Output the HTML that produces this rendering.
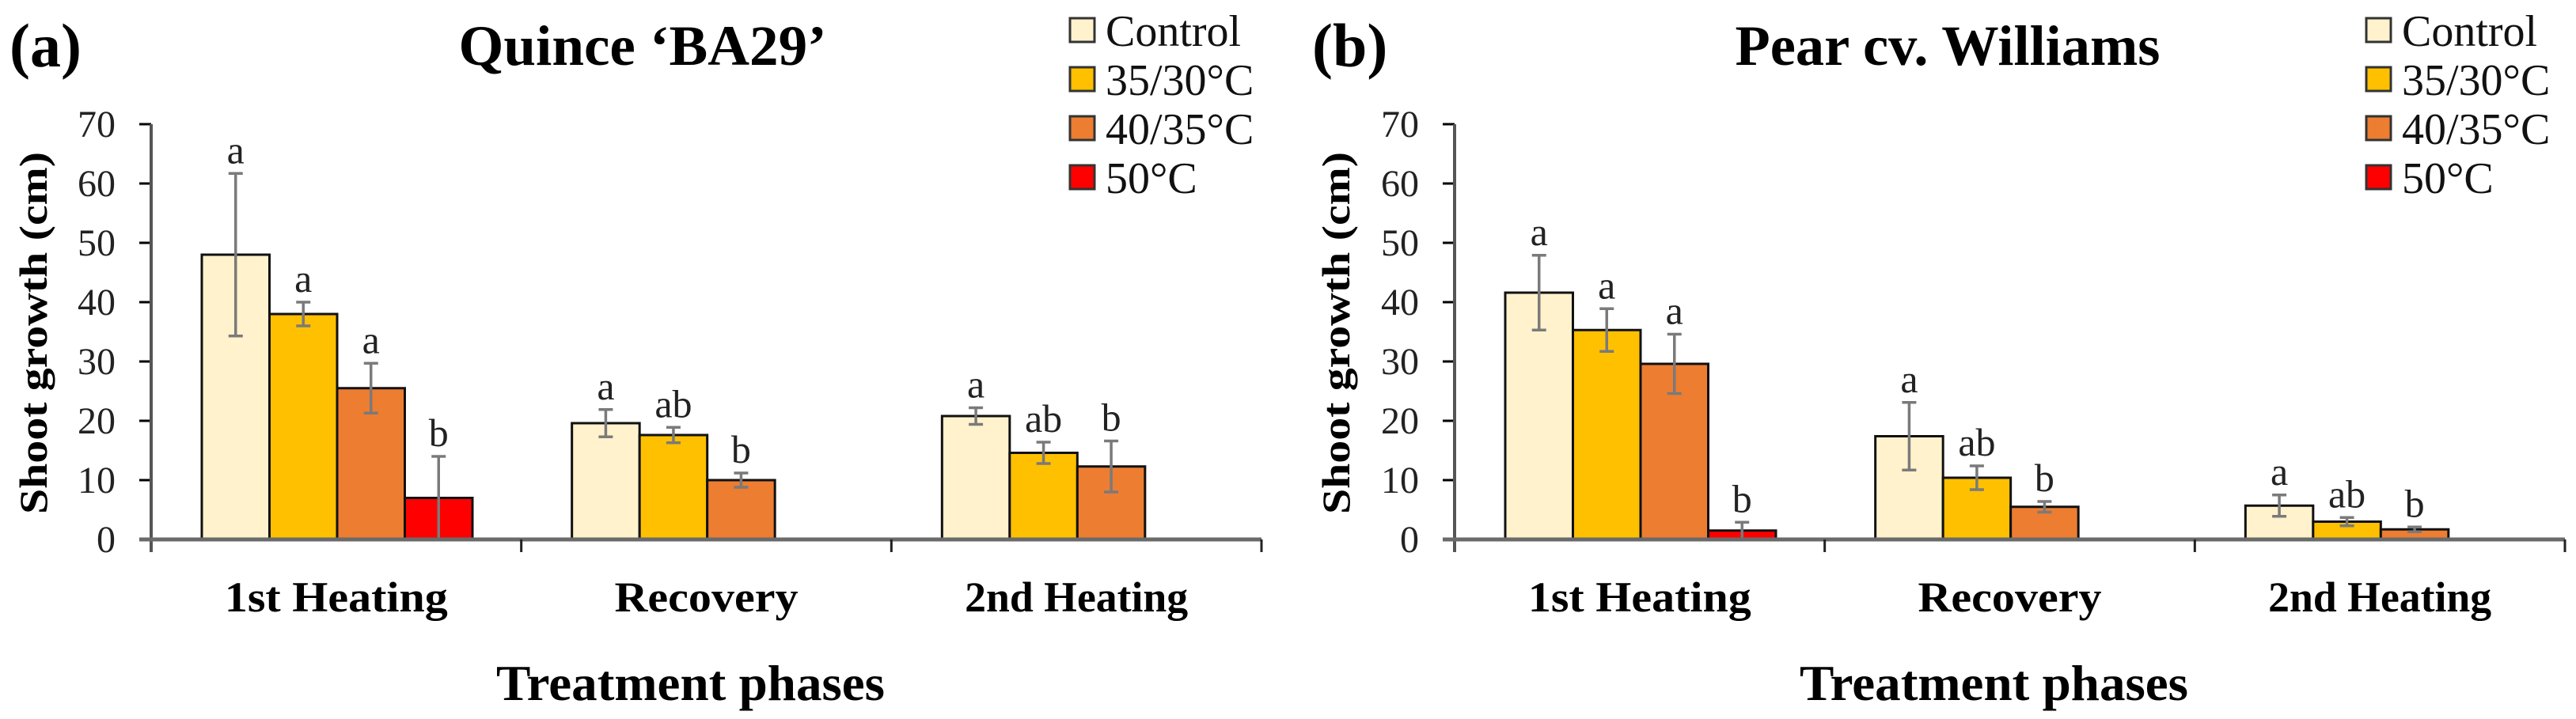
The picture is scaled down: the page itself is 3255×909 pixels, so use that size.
<!DOCTYPE html>
<html><head><meta charset="utf-8"><style>
html,body{margin:0;padding:0;background:#fff;}
svg{display:block;font-family:"Liberation Serif",serif;}
svg text{font-family:"Liberation Serif","Times New Roman",serif;}
</style></head><body>
<svg id="chart" xmlns="http://www.w3.org/2000/svg" width="3255" height="909" viewBox="0 0 3255 909" font-family="Liberation Serif, serif"></svg>
<script>
const categories = ["1st Heating", "Recovery", "2nd Heating"];
const seriesNames = ["Control", "35/30°C", "40/35°C", "50°C"];
const seriesColors = ["#FFF2CC", "#FFC000", "#ED7D31", "#FF0000"];
const yTicks = [0, 10, 20, 30, 40, 50, 60, 70];

const quinceValues = [[48, 38, 25.5, 7], [19.6, 17.6, 10], [20.8, 14.6, 12.3]];
const quinceErrors = [[13.7, 2, 4.2, 7], [2.3, 1.3, 1.2], [1.4, 1.8, 4.3]];
const quinceLetters = [["a", "a", "a", "b"], ["a", "ab", "b"], ["a", "ab", "b"]];

const pearValues = [[41.6, 35.3, 29.6, 1.5], [17.4, 10.4, 5.5], [5.7, 3, 1.7]];
const pearErrors = [[6.3, 3.6, 5, 1.4], [5.7, 2, 0.9], [1.8, 0.7, 0.4]];
const pearLetters = [["a", "a", "a", "b"], ["a", "ab", "b"], ["a", "ab", "b"]];

const svg = document.getElementById('chart');
const NS = 'http://www.w3.org/2000/svg';
const FONT = '"Liberation Serif", "Times New Roman", serif';
function mk(tag, attrs, parent, txt) {
  const e = document.createElementNS(NS, tag);
  for (const k in attrs) e.setAttribute(k, attrs[k]);
  if (txt !== undefined) { e.textContent = txt; e.style.fontFamily = FONT; }
  (parent || svg).appendChild(e);
  return e;
}

function panel(opt) {
  const g = mk('g', {});
  
  
  const x0 = opt.axisX, plotW = 1403, y0 = 682, pxPerUnit = 7.5;
  const yScale = v => y0 - v * pxPerUnit;
  const groupW = plotW / categories.length;
  const barW = 85.5;
  const xBar = (ci, si) => x0 + ci * groupW + 64 + si * barW;

  let t = mk('text', {x: opt.tagX, y: 84, 'font-size': 78, 'font-weight': 'bold'}, g, opt.tag);
  
  
  t = mk('text', {x: opt.titleX, y: 82, 'font-size': 72, 'font-weight': 'bold', 'text-anchor': 'middle', textLength: opt.titleW, lengthAdjust: 'spacingAndGlyphs'}, g, opt.title);
  
  

  yTicks.forEach(v => {
    const ty = yScale(v);
    let l = mk('line', {x1: x0 - 15, x2: x0, y1: ty, y2: ty, stroke: '#000', 'stroke-width': 3}, g);
    
    
    let tl = mk('text', {x: x0 - 45, y: ty + 16, 'font-size': 48, 'text-anchor': 'end', fill: '#222'}, g, String(v));
    
    
  });
  t = mk('text', {x: 0, y: 0, 'font-size': 50, 'font-weight': 'bold', 'text-anchor': 'middle', textLength: 458, lengthAdjust: 'spacingAndGlyphs', transform: 'translate(' + (opt.yTitleX + 17) + ',421) rotate(-90)'}, g, 'Shoot growth (cm)');
  
  

  opt.values.forEach((grp, ci) => {
    grp.forEach((v, si) => {
      const bx = xBar(ci, si), by = yScale(v);
      const r = mk('rect', {x: bx, y: by, width: barW, height: y0 - by, fill: seriesColors[si], stroke: '#111', 'stroke-width': 3}, g);
      
      
      const cx = bx + barW / 2, e = opt.errors[ci][si];
      const top = yScale(v + e), bot = yScale(Math.max(0, v - e));
      const eb = mk('path', {d: 'M' + cx + ',' + top + 'V' + bot + 'M' + (cx - 9) + ',' + top + 'H' + (cx + 9) + 'M' + (cx - 9) + ',' + bot + 'H' + (cx + 9), stroke: '#7a7a7a', 'stroke-width': 3.5, fill: 'none'}, g);
      
      
      const lt = mk('text', {x: cx, y: top - 13, 'font-size': 50, 'text-anchor': 'middle', fill: '#222'}, g, opt.letters[ci][si]);
      
      
    });
  });

  let a = mk('line', {x1: x0, x2: x0, y1: yScale(70), y2: y0 + 16, stroke: '#555', 'stroke-width': 4}, g);
  
  
  a = mk('line', {x1: x0 - 15, x2: x0 + plotW, y1: y0, y2: y0, stroke: '#6a6a6a', 'stroke-width': 5}, g);
  
  
  for (let i = 1; i <= categories.length; i++) {
    const tx = x0 + i * groupW;
    const l = mk('line', {x1: tx, x2: tx, y1: y0, y2: y0 + 16, stroke: '#222', 'stroke-width': 3}, g);
    
    
  }
  categories.forEach((c, ci) => {
    const cl = mk('text', {x: x0 + (ci + 0.5) * groupW, y: 773, 'font-size': 54, 'font-weight': 'bold', 'text-anchor': 'middle', textLength: c === 'Recovery' ? 232 : 282, lengthAdjust: 'spacingAndGlyphs'}, g, c);
    
    
  });
  t = mk('text', {x: x0 + plotW / 2 - 20, y: 885, 'font-size': 64, 'font-weight': 'bold', 'text-anchor': 'middle', textLength: 491, lengthAdjust: 'spacingAndGlyphs'}, g, 'Treatment phases');
  
  

  const lg = mk('g', {}, g);
  
  
  seriesNames.forEach((n, si) => {
    const ry = 23 + si * 62;
    const s = mk('rect', {x: opt.legX, y: ry, width: 31, height: 30, fill: seriesColors[si], stroke: '#333', 'stroke-width': 3}, lg);
    
    
    const lt = mk('text', {x: opt.legX + 45, y: ry + 35, 'font-size': 56, fill: '#111'}, lg, n);
    
    
  });
}

panel({id: 'quince', axisX: 191, tag: '(a)', tagX: 12, title: 'Quince \u2018BA29\u2019', titleX: 812, titleW: 465, yTitleX: 42, legX: 1352, values: quinceValues, errors: quinceErrors, letters: quinceLetters});
panel({id: 'pear', axisX: 1838, tag: '(b)', tagX: 1658, title: 'Pear cv. Williams', titleX: 2461, titleW: 537, yTitleX: 1688, legX: 2990, values: pearValues, errors: pearErrors, letters: pearLetters});
</script>
</body></html>
